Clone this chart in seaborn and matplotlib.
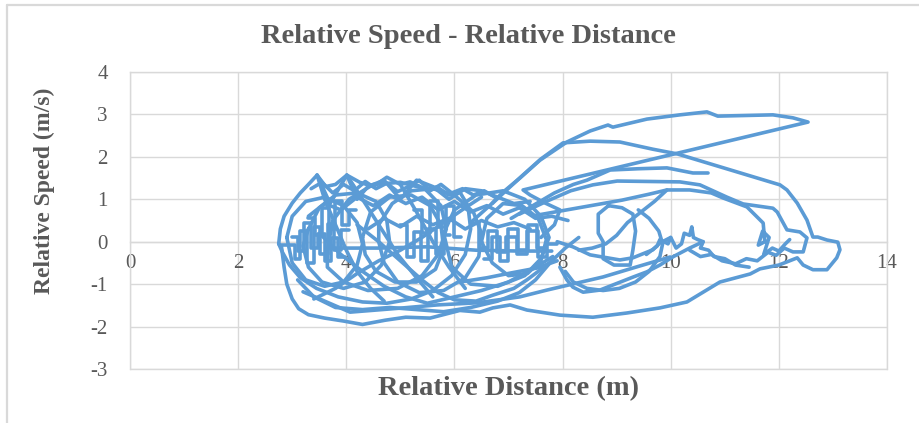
import matplotlib
matplotlib.use("Agg")
import matplotlib.pyplot as plt
import seaborn as sns
import pandas as pd
from matplotlib.lines import Line2D

# ---------------- data ----------------
x_ticks = [0, 2, 4, 6, 8, 10, 12, 14]
y_ticks = [-3, -2, -1, 0, 1, 2, 3, 4]

outer_x = [2.75, 2.78, 2.85, 3.00, 3.15, 3.30, 3.46, 3.62, 3.80, 4.01, 4.25, 4.50, 4.75, 5.00, 5.18, 5.45, 5.68, 5.90, 6.10, 6.25, 6.30, 6.20, 5.95, 5.60, 5.20, 4.75, 4.30, 3.85, 3.45, 3.15, 2.95, 2.82, 2.75]
outer_y = [-0.05, 0.30, 0.60, 0.91, 1.15, 1.35, 1.57, 1.30, 1.35, 1.57, 1.40, 1.30, 1.52, 1.35, 1.41, 1.25, 1.29, 1.10, 1.17, 0.85, 0.30, -0.30, -0.80, -1.15, -1.35, -1.45, -1.42, -1.30, -1.10, -0.85, -0.55, -0.25, -0.05]

lowest_x = [2.80, 2.85, 2.90, 3.00, 3.12, 3.30, 3.60, 3.95, 4.30, 4.72, 5.10, 5.55, 6.10, 6.47, 6.71, 7.03, 7.34, 7.95, 8.56, 9.19, 9.80, 10.30, 10.91, 11.47, 11.65, 12.00, 12.34, 12.45, 12.63, 12.89, 13.07, 13.13, 13.09, 12.89, 12.72, 12.63, 12.52, 12.34, 12.15, 12.02, 10.12, 9.67, 9.06, 8.51, 8.01, 7.60, 7.25, 6.95, 6.70]
lowest_y = [-0.10, -0.60, -1.00, -1.35, -1.58, -1.72, -1.80, -1.87, -1.95, -1.85, -1.78, -1.80, -1.62, -1.66, -1.56, -1.49, -1.61, -1.73, -1.78, -1.68, -1.56, -1.42, -0.95, -0.76, -0.64, -0.55, -0.38, -0.55, -0.66, -0.66, -0.38, -0.19, -0.01, 0.04, 0.11, 0.11, 0.51, 0.91, 1.22, 1.34, 2.07, 2.18, 2.35, 2.37, 2.33, 1.95, 1.55, 1.20, 0.90]

top_x = [6.30, 6.66, 6.90, 7.21, 7.58, 8.08, 8.51, 8.84, 8.93, 9.56, 10.17, 10.67, 10.87, 11.89, 12.26, 12.54, 7.27, 7.40, 7.68, 7.95, 7.85, 7.60]
top_y = [0.45, 0.86, 1.17, 1.50, 1.92, 2.35, 2.61, 2.75, 2.70, 2.89, 2.99, 3.06, 2.96, 2.99, 2.92, 2.82, 1.22, 1.10, 0.91, 0.75, 0.40, 0.10]

short_x = [7.05, 7.45, 7.85, 8.20, 8.45, 8.88, 9.40, 9.93, 10.41, 10.69]
short_y = [0.55, 0.85, 1.15, 1.35, 1.45, 1.69, 1.72, 1.74, 1.62, 1.62]

mid_x = [7.20, 7.70, 8.15, 8.56, 9.01, 10.17, 10.54, 11.04, 11.34, 11.89, 11.97, 12.15, 12.39, 12.52, 12.45, 12.26, 12.10, 11.95, 11.80, 11.60, 11.40, 11.20, 10.95, 10.75, 10.55, 10.35]
mid_y = [0.65, 0.95, 1.20, 1.34, 1.43, 1.41, 1.34, 1.05, 0.89, 0.79, 0.70, 0.28, 0.23, 0.09, -0.24, -0.24, -0.15, -0.32, -0.25, -0.45, -0.40, -0.52, -0.45, -0.30, -0.35, -0.20]

peak_x = [7.50, 8.30, 9.10, 9.60, 9.93, 10.35, 10.75, 10.97, 11.41, 11.60, 11.71, 11.74, 11.62, 11.70, 11.82, 11.72, 11.88, 12.00, 12.12, 12.20]
peak_y = [0.62, 0.80, 0.98, 1.12, 1.22, 1.22, 1.15, 1.03, 0.82, 0.58, 0.44, 0.00, -0.08, 0.25, 0.10, -0.30, -0.15, -0.22, -0.05, 0.05]

descent_x = [9.93, 9.70, 9.45, 9.20, 9.00, 8.80, 8.55, 8.30]
descent_y = [1.22, 0.95, 0.70, 0.45, 0.15, -0.05, -0.15, -0.20]

octagon_x = [8.85, 8.66, 8.66, 8.75, 8.75, 8.95, 9.25, 9.30, 9.35, 9.30, 9.10, 8.85]
octagon_y = [0.85, 0.65, 0.20, 0.00, -0.40, -0.55, -0.55, -0.20, 0.25, 0.65, 0.80, 0.85]

ring9_x = [9.40, 9.60, 9.78, 9.85, 9.80, 9.60, 9.35, 9.05, 8.75, 8.45, 8.20, 8.05]
ring9_y = [0.75, 0.55, 0.25, -0.05, -0.35, -0.70, -0.95, -1.10, -1.15, -1.10, -0.95, -0.70]

vee_x = [7.95, 8.08, 8.19, 8.38, 8.69, 9.01, 9.31, 9.56, 9.80, 10.05, 10.35, 10.60]
vee_y = [-0.60, -0.90, -1.07, -1.19, -1.14, -0.98, -0.83, -0.71, -0.55, -0.35, -0.15, 0.00]

flat9_x = [7.90, 8.19, 8.51, 9.06, 9.30, 9.67, 9.80, 10.00]
flat9_y = [0.00, -0.12, -0.31, -0.43, -0.38, -0.19, -0.03, 0.10]

spike_x = [9.55, 9.75, 9.80, 9.95, 10.00, 10.10, 10.20, 10.25, 10.35, 10.39, 10.42, 10.50, 10.60, 10.55, 10.70, 10.80, 11.00, 11.20, 11.45]
spike_y = [-0.30, -0.10, 0.05, -0.05, 0.10, -0.15, -0.05, 0.20, 0.15, 0.35, 0.10, 0.05, 0.00, -0.15, -0.20, -0.35, -0.40, -0.55, -0.60]

ring3_x = [2.90, 3.00, 3.25, 3.60, 3.95, 4.20, 4.30, 4.20, 3.95, 3.60, 3.25, 3.00, 2.90]
ring3_y = [0.10, 0.60, 0.95, 1.05, 0.85, 0.45, -0.05, -0.55, -0.95, -1.05, -0.90, -0.50, 0.10]

ring4_x = [3.30, 3.50, 3.80, 4.20, 4.55, 4.75, 4.80, 4.65, 4.35, 3.95, 3.55, 3.30, 3.20, 3.30]
ring4_y = [0.30, 0.80, 1.10, 1.15, 0.95, 0.50, 0.00, -0.55, -0.95, -1.10, -0.95, -0.60, -0.10, 0.30]

ring46_x = [3.65, 3.75, 4.05, 4.50, 5.00, 5.45, 5.75, 5.85, 5.70, 5.40, 4.95, 4.40, 3.95, 3.65, 3.65]
ring46_y = [-0.20, 0.50, 1.00, 1.35, 1.40, 1.25, 0.85, 0.30, -0.30, -0.80, -1.10, -1.15, -0.95, -0.60, -0.20]

ring5_x = [4.30, 4.45, 4.80, 5.20, 5.55, 5.75, 5.80, 5.65, 5.30, 4.90, 4.55, 4.35, 4.30]
ring5_y = [0.10, 0.70, 1.05, 1.10, 0.85, 0.40, -0.15, -0.65, -0.95, -0.95, -0.70, -0.30, 0.10]

ring55_x = [4.60, 4.85, 5.20, 5.60, 6.00, 6.35, 6.50, 6.45, 6.20, 5.80, 5.35, 4.95, 4.70, 4.60, 4.60]
ring55_y = [0.40, 0.90, 1.20, 1.25, 1.10, 0.70, 0.20, -0.35, -0.85, -1.15, -1.20, -0.95, -0.50, 0.00, 0.40]

ring66_x = [5.80, 6.00, 6.40, 6.90, 7.30, 7.60, 7.75, 7.60, 7.30, 6.80, 6.30, 5.95, 5.80]
ring66_y = [0.20, 0.75, 1.10, 1.20, 1.00, 0.60, 0.10, -0.40, -0.80, -1.05, -1.00, -0.60, 0.20]

ring7_x = [6.50, 6.60, 6.90, 7.25, 7.55, 7.70, 7.60, 7.35, 7.00, 6.70, 6.50]
ring7_y = [0.00, 0.55, 0.90, 0.85, 0.55, 0.05, -0.45, -0.75, -0.80, -0.50, 0.00]

stairs_a_x = [2.78, 3.05, 3.05, 3.15, 3.15, 3.28, 3.28, 3.40, 3.40, 3.52, 3.52, 3.66, 3.66, 3.78, 3.78, 3.90, 3.90, 4.05]
stairs_a_y = [-0.08, -0.08, -0.40, -0.40, 0.25, 0.25, -0.50, -0.50, 0.35, 0.35, -0.30, -0.30, 0.42, 0.42, -0.20, -0.20, 0.28, 0.28]

stairs_b_x = [3.00, 3.10, 3.10, 3.22, 3.22, 3.35, 3.35, 3.48, 3.48, 3.60, 3.60, 3.72, 3.72, 3.85, 3.85, 3.98]
stairs_b_y = [0.12, 0.12, -0.22, -0.22, 0.45, 0.45, -0.15, -0.15, 0.18, 0.18, -0.45, -0.45, 0.08, 0.08, -0.35, -0.35]

stairs_c_x = [5.00, 5.12, 5.12, 5.26, 5.26, 5.38, 5.38, 5.52, 5.52, 5.66, 5.66, 5.80, 5.80, 5.92]
stairs_c_y = [0.40, 0.40, -0.35, -0.35, 0.22, 0.22, -0.45, -0.45, 0.30, 0.30, -0.30, -0.30, 0.15, 0.15]

stairs_d_x = [6.30, 6.45, 6.45, 6.62, 6.62, 6.78, 6.78, 6.95, 6.95, 7.15, 7.15, 7.35, 7.35, 7.55, 7.55, 7.72, 7.72, 7.90]
stairs_d_y = [0.45, 0.45, -0.15, -0.15, 0.25, 0.25, -0.25, -0.25, 0.12, 0.12, -0.28, -0.28, 0.25, 0.25, -0.35, -0.35, -0.05, -0.05]

stairs_e_x = [3.30, 3.42, 3.42, 3.55, 3.55, 3.68, 3.68, 3.80, 3.80, 3.92, 3.92, 4.05, 4.05, 4.18]
stairs_e_y = [0.55, 0.55, 0.15, 0.15, 0.80, 0.80, 0.30, 0.30, 0.95, 0.95, 0.40, 0.40, 0.75, 0.75]

stairs_f_x = [5.25, 5.40, 5.40, 5.55, 5.55, 5.70, 5.70, 5.85, 5.85, 6.00, 6.00, 6.12]
stairs_f_y = [0.75, 0.75, 0.20, 0.20, 0.95, 0.95, 0.35, 0.35, 0.85, 0.85, 0.10, 0.10]

stairs_g_x = [6.55, 6.70, 6.70, 6.85, 6.85, 7.00, 7.00, 7.18, 7.18, 7.36, 7.36, 7.52, 7.52, 7.68]
stairs_g_y = [-0.40, -0.40, 0.10, 0.10, -0.45, -0.45, 0.30, 0.30, -0.20, -0.20, 0.40, 0.40, -0.15, -0.15]

flat_x = [3.70, 4.60, 5.50, 6.40, 7.20, 7.80]
flat_y = [-0.15, -0.15, -0.12, -0.20, -0.22, -0.22]

wave_x = [4.40, 4.70, 5.00, 5.30, 5.60, 5.90, 6.20, 6.50, 6.80, 7.10, 7.40]
wave_y = [0.30, 0.55, 0.35, 0.60, 0.40, 0.55, 0.30, 0.50, 0.35, 0.45, 0.30]

zig_a_x = [3.46, 3.70, 4.01, 4.20, 4.40, 4.70, 5.00, 5.30, 5.60, 5.90, 6.20, 6.50, 6.80, 7.10, 7.40]
zig_a_y = [1.57, 0.90, 1.57, 1.00, 1.30, 1.45, 1.00, 1.45, 1.30, 1.00, 1.25, 1.20, 1.05, 0.90, 0.95]

zig_b_x = [3.30, 3.60, 3.90, 4.20, 4.50, 4.80, 5.10, 5.40, 5.70, 6.00, 6.30, 6.60, 6.90, 7.20, 7.50, 7.80, 8.10]
zig_b_y = [0.60, 0.90, 0.75, 1.05, 0.85, 1.10, 0.90, 1.05, 0.75, 0.95, 0.70, 0.85, 0.65, 0.80, 0.55, 0.60, 0.50]

zig_c_x = [3.35, 3.55, 3.75, 3.95, 4.15, 4.35, 4.55, 4.75, 4.95, 5.15, 5.35, 5.55, 5.75, 5.95, 6.15, 6.35, 6.55, 6.75]
zig_c_y = [1.25, 1.40, 1.15, 1.35, 1.20, 1.42, 1.25, 1.38, 1.18, 1.30, 1.45, 1.20, 1.35, 1.15, 1.25, 1.10, 1.20, 1.05]

diag_a_x = [3.46, 3.60, 3.80, 4.00, 4.20, 4.45, 4.70]
diag_a_y = [1.57, 1.00, 0.40, -0.20, -0.70, -1.10, -1.40]

diag_b_x = [4.01, 4.30, 4.60, 4.95, 5.30, 5.60]
diag_b_y = [1.57, 1.00, 0.40, -0.30, -0.85, -1.30]

diag_c_x = [5.00, 5.30, 5.60, 5.90, 6.20]
diag_c_y = [1.35, 0.70, 0.00, -0.60, -1.10]

low_a_x = [3.10, 3.40, 3.80, 4.30, 4.80, 5.30, 5.80, 6.30, 6.80, 7.20, 7.50, 7.80]
low_a_y = [-0.90, -1.30, -1.55, -1.60, -1.55, -1.60, -1.65, -1.55, -1.40, -1.20, -0.90, -0.45]

low_b_x = [3.50, 3.90, 4.30, 4.70, 5.10, 5.50, 6.00, 6.50, 7.00, 7.50, 7.82]
low_b_y = [0.20, -0.30, -0.70, -1.05, -1.30, -1.45, -1.30, -1.15, -0.95, -0.60, -0.35]

low_c_x = [3.20, 4.07, 5.05, 5.68, 6.42, 7.21, 7.71, 8.75, 9.38, 9.99]
low_c_y = [-1.18, -1.66, -1.56, -1.49, -1.44, -1.30, -1.14, -0.83, -0.59, -0.36]

low_d_x = [3.40, 3.80, 4.20, 4.60, 5.00, 5.40, 5.80, 6.20, 6.50]
low_d_y = [-1.35, -1.10, -0.75, -0.45, -0.20, 0.10, 0.45, 0.80, 1.05]

low_e_x = [6.10, 6.60, 7.03, 7.53, 7.90]
low_e_y = [-0.95, -0.85, -0.74, -0.62, -0.45]

low_f_x = [4.20, 4.60, 5.00, 5.40, 5.70, 6.00, 6.40, 6.71, 7.10, 7.34, 7.58, 7.82, 8.05, 8.30]
low_f_y = [0.40, 0.00, -0.45, -0.90, -1.20, -1.37, -1.40, -1.26, -1.10, -0.90, -0.67, -0.43, -0.15, 0.10]

traces = [
    ("outer", outer_x, outer_y), ("lowest", lowest_x, lowest_y), ("top", top_x, top_y),
    ("short", short_x, short_y), ("mid", mid_x, mid_y), ("peak", peak_x, peak_y),
    ("descent", descent_x, descent_y), ("octagon", octagon_x, octagon_y), ("ring9", ring9_x, ring9_y),
    ("vee", vee_x, vee_y), ("flat9", flat9_x, flat9_y), ("spike", spike_x, spike_y),
    ("ring3", ring3_x, ring3_y), ("ring4", ring4_x, ring4_y), ("ring46", ring46_x, ring46_y),
    ("ring5", ring5_x, ring5_y), ("ring55", ring55_x, ring55_y), ("ring66", ring66_x, ring66_y),
    ("ring7", ring7_x, ring7_y),
    ("stairs_a", stairs_a_x, stairs_a_y), ("stairs_b", stairs_b_x, stairs_b_y),
    ("stairs_c", stairs_c_x, stairs_c_y), ("stairs_d", stairs_d_x, stairs_d_y),
    ("stairs_e", stairs_e_x, stairs_e_y), ("stairs_f", stairs_f_x, stairs_f_y),
    ("stairs_g", stairs_g_x, stairs_g_y), ("flat", flat_x, flat_y), ("wave", wave_x, wave_y),
    ("zig_a", zig_a_x, zig_a_y), ("zig_b", zig_b_x, zig_b_y), ("zig_c", zig_c_x, zig_c_y),
    ("diag_a", diag_a_x, diag_a_y), ("diag_b", diag_b_x, diag_b_y), ("diag_c", diag_c_x, diag_c_y),
    ("low_a", low_a_x, low_a_y), ("low_b", low_b_x, low_b_y), ("low_c", low_c_x, low_c_y),
    ("low_d", low_d_x, low_d_y), ("low_e", low_e_x, low_e_y), ("low_f", low_f_x, low_f_y),
]
rows = []
for name, xs, ys in traces:
    for i, (a, b) in enumerate(zip(xs, ys)):
        rows.append({"trace": name, "step": i, "distance": a, "speed": b})
df = pd.DataFrame(rows)

# ---------------- style ----------------
BLUE = "#5B9BD5"
GRID = "#D9D9D9"
TEXT = "#595959"

sns.set_style("white")
plt.rcParams["font.family"] = ["Liberation Serif", "DejaVu Serif"]

W, H = 919, 423
fig = plt.figure(figsize=(W / 100, H / 100), dpi=100)
ax = fig.add_axes([130 / W, 1 - 369 / H, 757 / W, 297 / H])

sns.lineplot(data=df, x="distance", y="speed", units="trace", estimator=None,
             sort=False, color=BLUE, lw=2.6, ax=ax, legend=False)

ax.set_xlim(0, 14)
ax.set_ylim(-3, 4)
ax.set_xticks(x_ticks)
ax.set_yticks(y_ticks)
ax.set_xticklabels([str(v) for v in x_ticks])
ax.set_yticklabels([str(v) for v in y_ticks])
ax.grid(True, color=GRID, lw=1.0)
ax.set_axisbelow(True)
for s in ax.spines.values():
    s.set_color(GRID)
    s.set_linewidth(1.0)
    s.set_zorder(0.6)
ax.spines["bottom"].set_position(("data", 0))
ax.axhline(-3, color=GRID, lw=1.0, clip_on=False, zorder=0.6)
ax.tick_params(length=0, labelsize=15, labelcolor=TEXT)
ax.tick_params(axis="x", pad=9)
ax.tick_params(axis="y", pad=16)
ax.set_xlabel("")
ax.set_ylabel("")

fig.text(468 / W, 1 - 43 / H, "Relative Speed - Relative Distance", ha="center",
         va="baseline", fontsize=20.5, fontweight="bold", color=TEXT)
fig.text(508 / W, 1 - 395 / H, "Relative Distance (m)", ha="center",
         va="baseline", fontsize=20.5, fontweight="bold", color=TEXT)
fig.text(44 / W, 1 - 191 / H, "Relative Speed (m/s)", ha="center", va="center",
         rotation=90, fontsize=17, fontweight="bold", color=TEXT)

# outer chart frame (left and top edges visible)
fig.add_artist(Line2D([7 / W, 7 / W], [0, 1 - 5 / H], color=GRID, lw=1.6, transform=fig.transFigure))
fig.add_artist(Line2D([7 / W, 1], [1 - 5 / H, 1 - 5 / H], color=GRID, lw=1.6, transform=fig.transFigure))

fig.savefig("out.png", dpi=100)
